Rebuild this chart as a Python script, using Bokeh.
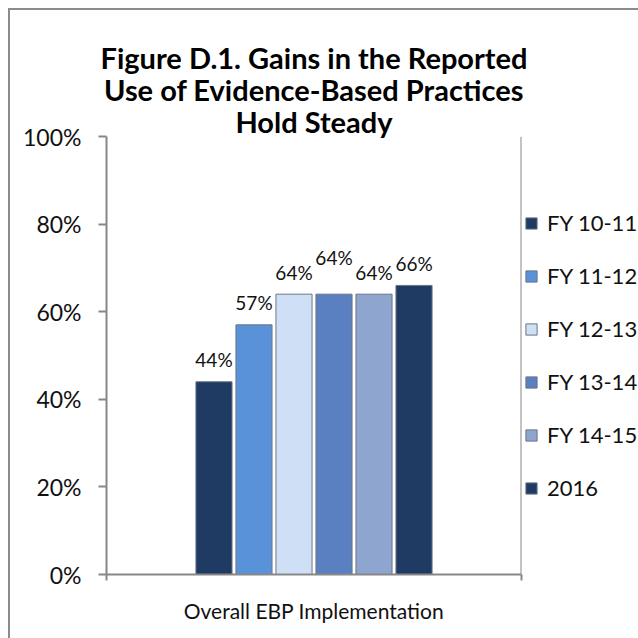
from bokeh.plotting import figure
from bokeh.models import (ColumnDataSource, Range1d, FixedTicker, LabelSet, Span,
                          Title, Legend, LegendItem)
from bokeh.core.properties import value
from bokeh.embed import file_html
from bokeh.resources import INLINE

# ---- data ----
category = ["Overall EBP Implementation"]
series = ["FY 10-11", "FY 11-12", "FY 12-13", "FY 13-14", "FY 14-15", "2016"]
values = [44, 57, 64, 64, 64, 66]
value_labels = ["44%", "57%", "64%", "64%", "64%", "66%"]
y_ticks = [0, 20, 40, 60, 80, 100]
y_tick_labels = ["0%", "20%", "40%", "60%", "80%", "100%"]
title_lines = ["Figure D.1. Gains in the Reported",
               "Use of Evidence-Based Practices",
               "Hold Steady"]

# ---- styles ----
colors = ["#1f3a63", "#5a92da", "#cfe0f6", "#5b80c1", "#8ea5cf", "#1f3a63"]
label_lift = [22, 22, 22, 37, 22, 22]
FONT = "Lato"
GRAY = "#878787"

n = len(series)
pitch = 0.0964
xs = [0.5 + (i - (n - 1) / 2) * pitch for i in range(n)]

src = ColumnDataSource(dict(x=xs, top=values, series=series, color=colors,
                            lab=value_labels, lift=label_lift))

p = figure(frame_width=415, frame_height=438, output_backend="svg",
           toolbar_location=None,
           x_range=Range1d(0, 1), y_range=Range1d(0, 100),
           min_border_left=96, min_border_right=117, min_border_top=126,
           min_border_bottom=64)
p.styles = {"border-left": "2px solid #8c8c8c", "border-top": "2px solid #8c8c8c",
            "margin-left": "8px", "margin-top": "8px"}
p.outline_line_color = None
p.xgrid.grid_line_color = None
p.ygrid.grid_line_color = None
p.background_fill_color = "white"
p.border_fill_color = "white"

r = p.vbar(x="x", top="top", width=0.087, bottom=0, source=src,
           fill_color="color", line_color="#6b7684", line_width=1)

labels = LabelSet(x="x", y="top", text="lab", source=src, y_offset="lift",
                  text_align="center", text_baseline="middle",
                  text_font=value(FONT), text_font_size=value("19px"),
                  text_color="#111111")
p.add_layout(labels)

p.add_layout(Span(location=1, dimension="height", line_color=GRAY, line_width=2))

# y axis
ya = p.yaxis[0]
ya.ticker = FixedTicker(ticks=y_ticks)
ya.major_label_overrides = {t: l for t, l in zip(y_ticks, y_tick_labels)}
ya.major_tick_in = 0
ya.major_tick_out = 8
ya.minor_tick_line_color = None
ya.axis_line_color = GRAY
ya.axis_line_width = 2
ya.major_tick_line_color = GRAY
ya.major_tick_line_width = 2
ya.major_label_text_font = FONT
ya.major_label_text_font_size = "23px"
ya.major_label_text_color = "#111111"
ya.major_label_standoff = 17

# x axis
xa = p.xaxis[0]
xa.ticker = FixedTicker(ticks=[0, 1])
xa.major_label_overrides = {0: "", 1: ""}
xa.major_label_text_font_size = "0px"
xa.major_tick_in = 0
xa.major_tick_out = 6
xa.minor_tick_line_color = None
xa.axis_line_color = GRAY
xa.axis_line_width = 2
xa.major_tick_line_color = GRAY
xa.major_tick_line_width = 2
xa.axis_label = category[0]
xa.axis_label_text_font = FONT
xa.axis_label_text_font_style = "normal"
xa.axis_label_text_font_size = "21px"
xa.axis_label_text_color = "#111111"
xa.axis_label_standoff = 17

# legend
items = [LegendItem(label=s, renderers=[r], index=i) for i, s in enumerate(series)]
leg = Legend(items=items, location="center_left", orientation="vertical",
             glyph_width=14, glyph_height=14, label_height=20, spacing=26,
             label_standoff=9, padding=0, margin=3, border_line_color=None,
             background_fill_alpha=0, label_text_font=FONT,
             label_text_font_size="22px", label_text_color="#111111")
p.add_layout(leg, "right")

# title: one Title per line, stacked from the frame upward
for line in reversed(title_lines):
    p.add_layout(Title(text=line, align="center", text_font=FONT,
                       text_font_style="bold", text_font_size="29px",
                       text_line_height=1.1, text_color="#000000", standoff=-5,
                       offset=18), "above")

open("out.html", "w").write(file_html(p, INLINE))
